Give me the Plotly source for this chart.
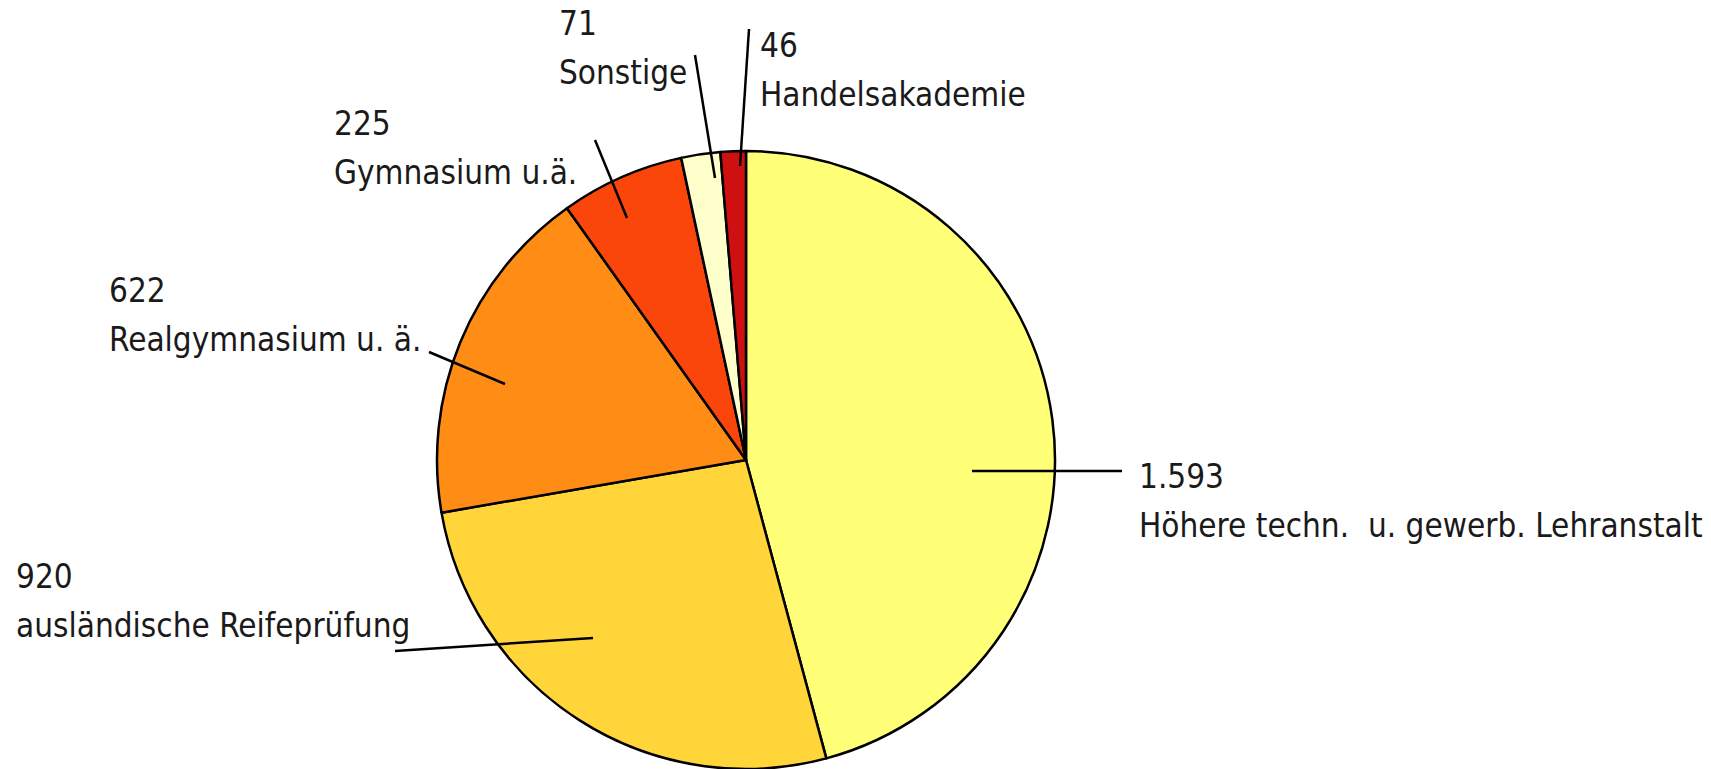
import plotly.graph_objects as go

# ---- data ----
categories = ["Höhere techn.  u. gewerb. Lehranstalt", "ausländische Reifeprüfung",
              "Realgymnasium u. ä.", "Gymnasium u.ä.", "Sonstige", "Handelsakademie"]
value_labels = ["1.593", "920", "622", "225", "71", "46"]
values = [1593, 920, 622, 225, 71, 46]
colors = ["#FFFF78", "#FFD53A", "#FF8C14", "#FA460A", "#FFFFCC", "#CF1010"]

W, H = 1711, 769
# pie geometry (pixels)
CX, CY, R = 746, 460, 309

# label layout (pixels): left x, top y of first line
label_pos = [(1137, 455), (14, 555), (107, 269), (332, 102), (557, 2), (758, 24)]
LINE_GAP = 49  # px between the value line and the category line
# leader lines (pixels): outer end, inner end
leaders = [((1122, 471), (972, 471)),
           ((395, 651), (593, 638)),
           ((429, 352), (505, 384)),
           ((595, 140), (627, 218)),
           ((695, 55), (715, 178)),
           ((749, 29), (740, 166))]

FONT = "DejaVu Sans Condensed, Liberation Sans Narrow, sans-serif"
FSIZE = 33

fig = go.Figure(go.Pie(
    labels=categories, values=values, sort=False, direction="clockwise",
    marker=dict(colors=colors, line=dict(color="black", width=2.5)),
    textinfo="none", showlegend=False, hole=0,
    domain=dict(x=[(CX - R) / W, (CX + R) / W], y=[(H - CY - R) / H, (H - CY + R) / H]),
))

px = lambda x: x / W
py = lambda y: 1 - y / H

shapes = []
for (x0, y0), (x1, y1) in leaders:
    shapes.append(dict(type="line", xref="paper", yref="paper",
                       x0=px(x0), y0=py(y0), x1=px(x1), y1=py(y1),
                       line=dict(color="black", width=2.5)))

annotations = []
for cat, vl, (lx, ly) in zip(categories, value_labels, label_pos):
    for txt, yy in ((vl, ly), (cat, ly + LINE_GAP)):
        annotations.append(dict(text=txt, xref="paper", yref="paper",
                                x=px(lx), y=py(yy), xanchor="left", yanchor="top",
                                align="left", showarrow=False,
                                font=dict(family=FONT, size=FSIZE, color="#1a1a1a")))

fig.update_layout(width=W, height=H, margin=dict(l=0, r=0, t=0, b=0),
                  paper_bgcolor="white", plot_bgcolor="white",
                  shapes=shapes, annotations=annotations)
fig.write_html("out.html", config={"displayModeBar": False},
               post_script="document.body.style.margin='0';")
